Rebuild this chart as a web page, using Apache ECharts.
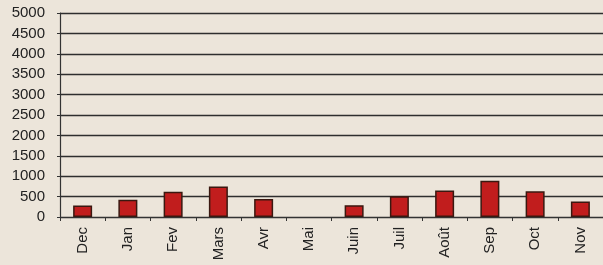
<!DOCTYPE html>
<html>
<head>
<meta charset="utf-8">
<script src="https://cdn.jsdelivr.net/npm/echarts@6/dist/echarts.min.js"></script>
<style>
html, body { margin: 0; padding: 0; background: #ece5da; }
#chart { width: 603px; height: 265px; }
</style>
</head>
<body>
<div id="chart"></div>
<script>
var months = ['Dec', 'Jan', 'Fev', 'Mars', 'Avr', 'Mai', 'Juin', 'Juil', 'Août', 'Sep', 'Oct', 'Nov'];
// Mai has no bar in the picture
var values = [280, 420, 620, 750, 440, null, 290, 510, 650, 890, 630, 380];

var chart = echarts.init(document.getElementById('chart'));

var option = {
    backgroundColor: '#ece5da',
    animation: false,
    grid: {
        left: 60,
        top: 13,
        width: 546,
        height: 204
    },
    xAxis: {
        type: 'category',
        data: months,
        axisLine: { lineStyle: { color: '#333', width: 1.2 } },
        axisTick: { show: true, length: 4, lineStyle: { color: '#333' } },
        axisLabel: {
            rotate: 90,
            color: '#222',
            fontFamily: 'Liberation Sans',
            fontSize: 15,
            margin: 10
        }
    },
    yAxis: {
        type: 'value',
        min: 0,
        max: 5000,
        interval: 500,
        axisLine: { show: true, lineStyle: { color: '#333', width: 1.2 } },
        axisTick: { show: true, length: 3, lineStyle: { color: '#333' } },
        axisLabel: {
            color: '#222',
            fontFamily: 'Liberation Sans',
            fontSize: 15,
            margin: 15,
            formatter: function (v) { return String(v); }
        },
        splitLine: { lineStyle: { color: '#2e2e2e', width: 1.4 } }
    },
    series: [{
        type: 'bar',
        data: values,
        barWidth: 19,
        itemStyle: {
            color: '#c11d1d',
            borderColor: '#3a1810',
            borderWidth: 1.5
        }
    }]
};

chart.setOption(option);
</script>
</body>
</html>
